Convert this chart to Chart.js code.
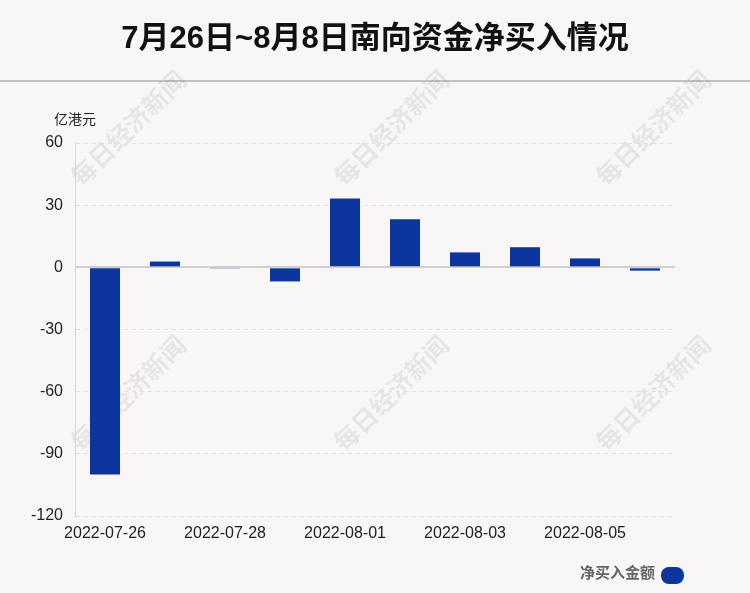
<!DOCTYPE html>
<html>
<head>
<meta charset="utf-8">
<script src="https://cdn.jsdelivr.net/npm/chart.js@4.4.0/dist/chart.umd.min.js"></script>
<style>
  html, body { margin: 0; padding: 0; background: #f9f6f7; }
  #wrap { width: 750px; height: 593px; position: relative; }
</style>
</head>
<body>
<div id="wrap"><canvas id="c" width="750" height="593"></canvas></div>
<script>
const titleText = '7月26日~8月8日南向资金净买入情况';
const unitText = '亿港元';
const seriesName = '净买入金额';
const dates = ['2022-07-26', '2022-07-27', '2022-07-28', '2022-07-29', '2022-08-01',
               '2022-08-02', '2022-08-03', '2022-08-04', '2022-08-05', '2022-08-08'];
const netBuy = [-100.0, 2.8, -0.6, -6.8, 33.2, 23.2, 7.2, 9.7, 4.3, -1.6];
const yMin = -120, yMax = 60, yStep = 30;

const barColor = '#0c359e';
const cjk = "'Liberation Sans', 'Noto Sans CJK SC', sans-serif";

// title, separator, unit label, watermark, legend
const decor = {
    id: 'decor',
    beforeDraw(chart) {
        const ctx = chart.ctx;
        ctx.save();
        ctx.fillStyle = '#f9f6f7';
        ctx.fillRect(0, 0, chart.width, chart.height);

        ctx.fillStyle = '#111';
        ctx.font = 'bold 31px ' + cjk;
        ctx.textAlign = 'center';
        ctx.textBaseline = 'middle';
        ctx.fillText(titleText, 375, 39);

        ctx.strokeStyle = '#c2c2c2';
        ctx.lineWidth = 2;
        ctx.beginPath();
        ctx.moveTo(0, 81);
        ctx.lineTo(chart.width, 81);
        ctx.stroke();

        // watermark
        ctx.fillStyle = 'rgba(0,0,0,0.07)';
        ctx.font = 'bold 25px ' + cjk;
        const marks = [[130, 130], [393, 130], [655, 130], [130, 395], [393, 395], [655, 395]];
        marks.forEach(([x, y]) => {
            ctx.save();
            ctx.translate(x, y);
            ctx.rotate(-Math.PI / 4);
            ctx.fillText('每日经济新闻', 0, 0);
            ctx.restore();
        });

        ctx.fillStyle = '#222';
        ctx.font = '14px ' + cjk;
        ctx.fillText(unitText, chart.chartArea.left, 120);
        ctx.restore();
    },
    afterDraw(chart) {
        const ctx = chart.ctx;
        ctx.save();
        ctx.font = 'bold 15px ' + cjk;
        ctx.fillStyle = '#666';
        ctx.textAlign = 'right';
        ctx.textBaseline = 'middle';
        ctx.fillText(chart.data.datasets[0].label, 655, 574);
        ctx.fillStyle = barColor;
        ctx.beginPath();
        ctx.roundRect(661, 567, 23, 17, 8);
        ctx.fill();
        ctx.restore();
    }
};

new Chart(document.getElementById('c'), {
    type: 'bar',
    data: {
        labels: dates,
        datasets: [{
            label: seriesName,
            data: netBuy,
            backgroundColor: barColor,
            barPercentage: 0.5,
            categoryPercentage: 1
        }]
    },
    options: {
        responsive: false,
        animation: false,
        devicePixelRatio: 1,
        layout: { padding: { top: 143, left: 28, right: 75, bottom: 47 } },
        plugins: {
            legend: { display: false },
            tooltip: { enabled: false }
        },
        scales: {
            x: {
                grid: { display: false },
                border: { display: false },
                afterFit(scale) { scale.height = 30; },
                ticks: {
                    autoSkip: false,
                    maxRotation: 0,
                    padding: 0,
                    color: '#222',
                    font: { size: 16, family: 'Liberation Sans' },
                    callback: (v, i) => i % 2 === 0 ? dates[i] : ''
                }
            },
            y: {
                min: yMin,
                max: yMax,
                afterFit(scale) { scale.width = 47; },
                ticks: {
                    stepSize: yStep,
                    padding: 12,
                    color: '#222',
                    font: { size: 16, family: 'Liberation Sans' }
                },
                grid: {
                    drawTicks: false,
                    color: c => c.tick && c.tick.value === 0 ? '#cfcfcf' : '#e3e0e1',
                    lineWidth: c => c.tick && c.tick.value === 0 ? 2 : 1
                },
                border: {
                    display: true,
                    color: '#d4d4d4',
                    width: 1,
                    dash: c => c.tick && c.tick.value === 0 ? [] : [4, 4]
                }
            }
        }
    },
    plugins: [decor]
});
</script>
</body>
</html>
